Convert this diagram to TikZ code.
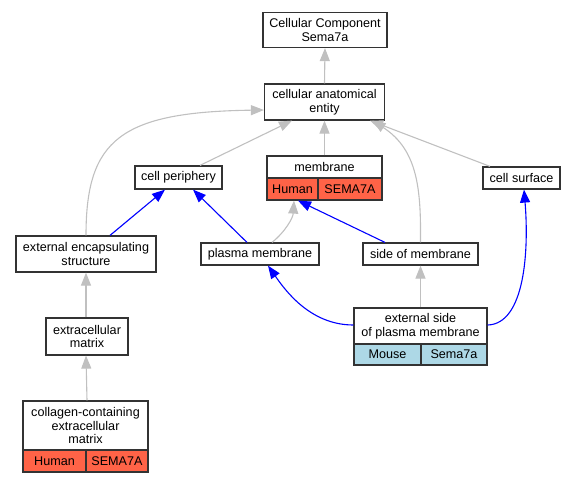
\documentclass[tikz,border=0pt]{standalone}
\usepackage{fontspec}
\setmainfont{Liberation Sans}
\usetikzlibrary{arrows.meta}
\definecolor{edgegray}{HTML}{C0C0C0}
\definecolor{tomatored}{HTML}{FF6347}
\definecolor{lblue}{HTML}{ADD8E6}
\tikzset{
  box/.style={draw=black!80, line width=1.2pt, fill=white, inner sep=0pt, align=center,
    font=\fontsize{12.6}{13.5}\selectfont},
  isa/.style={draw=edgegray, line width=1.1pt, -{Triangle[length=13pt,width=10pt]}},
  partof/.style={draw=blue, line width=1.1pt, -{Triangle[length=13pt,width=10pt]}},
}
\begin{document}
\begin{tikzpicture}[x=1pt,y=-1pt]
\useasboundingbox (0,0) rectangle (576,483);
% nodes
\node[box, minimum width=124pt, minimum height=35pt] (ccs) at (325,30) {Cellular Component\\Sema7a};
\node[box, minimum width=120pt, minimum height=36pt] (cae) at (324.5,102) {cellular anatomical\\entity};
\node[box, minimum width=87pt, minimum height=23pt] (cp) at (178.5,177.5) {cell periphery};
\node[box, minimum width=115pt, minimum height=22pt] (mem) at (324.5,167) {membrane};
\node[box, fill=tomatored, minimum width=51pt, minimum height=22pt] (memH) at (292.5,189) {Human};
\node[box, fill=tomatored, minimum width=64pt, minimum height=22pt] (memS) at (350,189) {SEMA7A};
\node[box, minimum width=77pt, minimum height=22pt] (cs) at (521.5,178) {cell surface};
\node[box, minimum width=140pt, minimum height=36pt] (ees) at (86,254) {external encapsulating\\structure};
\node[box, minimum width=118pt, minimum height=22pt] (pm) at (260,254) {plasma membrane};
\node[box, minimum width=115pt, minimum height=22pt] (som) at (420.5,254) {side of membrane};
\node[box, minimum width=133pt, minimum height=36pt] (esp) at (420.5,326) {external side\\of plasma membrane};
\node[box, fill=lblue, minimum width=67pt, minimum height=21pt] (espM) at (387.5,354.5) {Mouse};
\node[box, fill=lblue, minimum width=66pt, minimum height=21pt] (espS) at (454,354.5) {Sema7a};
\node[box, minimum width=82pt, minimum height=37pt] (ecm) at (87,336.5) {extracellular\\matrix};
\node[box, minimum width=125pt, minimum height=49pt] (ccem) at (85.5,425.5) {collagen-containing\\extracellular\\matrix};
\node[box, fill=tomatored, minimum width=63pt, minimum height=22pt] (ccemH) at (54.5,461) {Human};
\node[box, fill=tomatored, minimum width=62pt, minimum height=22pt] (ccemS) at (117,461) {SEMA7A};
% is_a edges
\draw[isa] (cae.north) -- (ccs.south);
\draw[isa] ([xshift=21.5pt]cp.north) -- ([xshift=-32.5pt]cae.south);
\draw[isa] (mem.north) -- (cae.south);
\draw[isa] ([xshift=-31.5pt]cs.north) -- ([xshift=45.5pt]cae.south);
\draw[isa] (ees.north) .. controls (86,140) and (120,112) .. ([yshift=-8pt]cae.west);
\draw[isa] (som.north) .. controls (421,190) and (418,150) .. ([xshift=48pt]cae.south);
\draw[isa] ([xshift=12pt]pm.north) .. controls (285,232) and (293,218) .. ([xshift=1.5pt]memH.south);
\draw[isa] ([xshift=-1pt]ecm.north) -- ([xshift=0pt]ees.south);
\draw[isa] ([xshift=1.5pt]ccem.north) -- ([xshift=-1pt]ecm.south);
\draw[isa] (esp.north) -- (som.south);
% part_of edges
\draw[partof] ([xshift=24pt]ees.north) -- ([xshift=-13.5pt]cp.south);
\draw[partof] ([xshift=-13pt]pm.north) -- ([xshift=14.5pt]cp.south);
\draw[partof] ([xshift=-35.5pt]som.north) -- ([xshift=5.5pt]memH.south);
\draw[partof] ([yshift=1pt]esp.west) .. controls (310,325) and (285,290) .. ([xshift=8pt]pm.south);
\draw[partof] ([yshift=1pt]esp.east) .. controls (525,324) and (529,250) .. ([xshift=2.5pt]cs.south);
\end{tikzpicture}
\end{document}
